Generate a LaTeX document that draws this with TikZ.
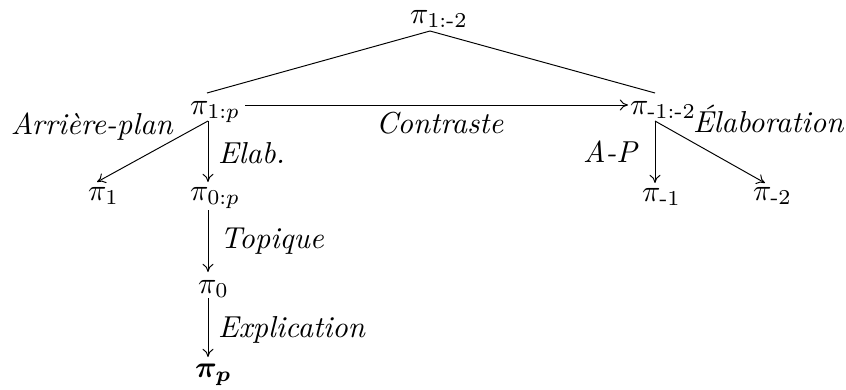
\documentclass[tikz,border=0pt]{standalone}
\usepackage{amsmath}
\usepackage{bm}
\usetikzlibrary{arrows.meta}
\begin{document}
\begin{tikzpicture}[x=0.33pt,y=-0.33pt,
  pinode/.style={anchor=base west,inner sep=0pt,outer sep=0pt},
  lbl/.style={anchor=base west,inner sep=0pt,outer sep=0pt,font=\itshape},
  edge/.style={draw,line width=0.32pt},
  arr/.style={draw,line width=0.32pt,-{Computer Modern Rightarrow[length=2.7pt,width=3.6pt]}}]
\useasboundingbox (0,0) rectangle (846,390);
% nodes
\node[pinode] (T) at (410,23) {$\pi_{\text{1:-2}}$};
\node[pinode] (A) at (190,114) {$\pi_{1:p}$};
\node[pinode] (B) at (630,114) {$\pi_{\text{-1:-2}}$};
\node[pinode] (C) at (88,200) {$\pi_{1}$};
\node[pinode] (D) at (190,200) {$\pi_{0:p}$};
\node[pinode] (E) at (642,201) {$\pi_{\text{-1}}$};
\node[pinode] (F) at (753,200) {$\pi_{\text{-2}}$};
\node[pinode] (G) at (198,293) {$\pi_{0}$};
\node[pinode] (H) at (195,377) {$\bm{\pi_{p}}$};
% labels
\node[lbl] (l1) at (11,135) {Arrière-plan};
\node[lbl] (l2) at (218,163) {Elab.};
\node[lbl] (l3) at (376,133) {Contraste};
\node[lbl] (l4) at (583,162) {A-P};
\node[lbl] (l5) at (693,132) {Élaboration};
\node[lbl] (l6) at (220,248) {Topique};
\node[lbl] (l7) at (218,337) {Explication};
% connectors
\path[edge] ([shift={(20,8)}]T.base west) -- ([shift={(17,-21)}]A.base west);
\path[edge] ([shift={(20,8)}]T.base west) -- ([shift={(25,-21)}]B.base west);
\path[arr] ([shift={(55,-9)}]A.base west) -- ([shift={(-2,-9)}]B.base west);
\path[arr] ([shift={(18,7)}]A.base west) -- ([shift={(9,-18)}]C.base west);
\path[arr] ([shift={(18,7)}]A.base west) -- ([shift={(18,-18)}]D.base west);
\path[arr] ([shift={(25,7)}]B.base west) -- ([shift={(13,-18)}]E.base west);
\path[arr] ([shift={(25,7)}]B.base west) -- ([shift={(12,-17)}]F.base west);
\path[arr] ([shift={(18,10)}]D.base west) -- ([shift={(10,-21)}]G.base west);
\path[arr] ([shift={(10,5)}]G.base west) -- ([shift={(13,-20)}]H.base west);
\end{tikzpicture}
\end{document}
